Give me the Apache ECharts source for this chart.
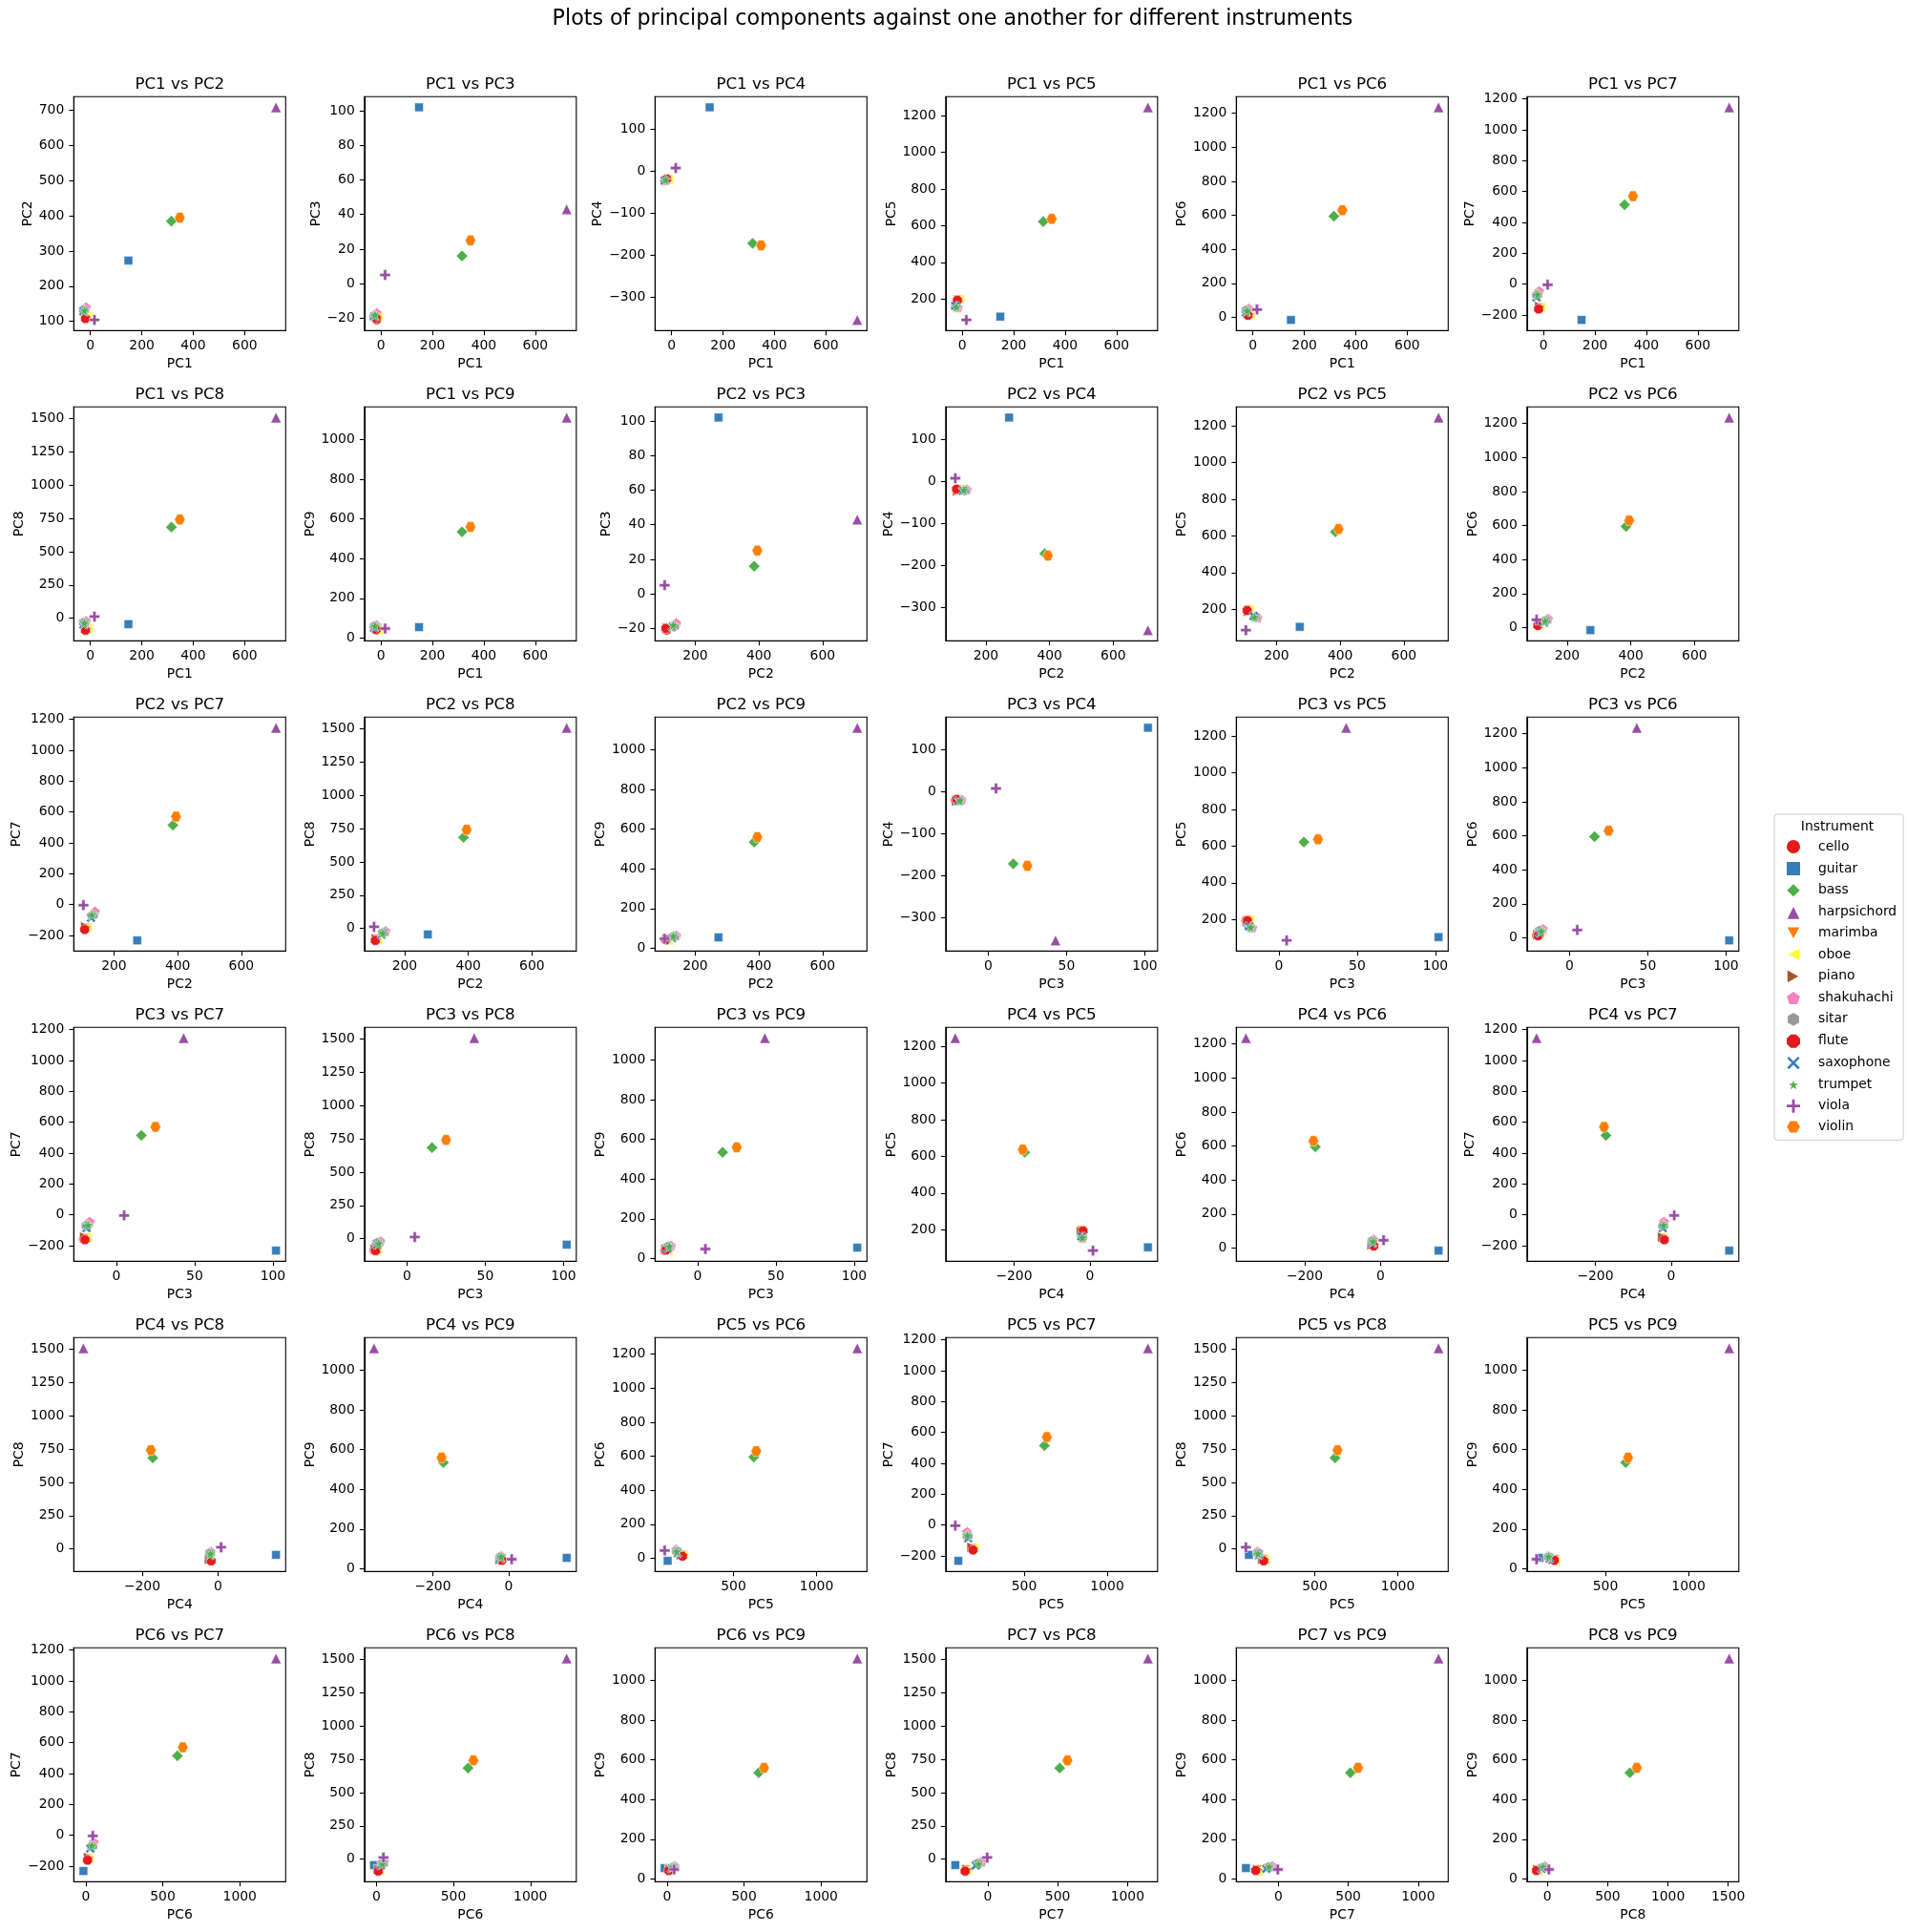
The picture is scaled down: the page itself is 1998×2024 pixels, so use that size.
<!DOCTYPE html>
<html><head><meta charset="utf-8">
<script src="https://cdn.jsdelivr.net/npm/echarts@6/dist/echarts.min.js"></script>
<style>html,body{margin:0;padding:0;background:#fff;} #chart{width:1998px;height:2024px;}</style>
</head><body><div id="chart"></div>
<script>
// ---------------- data ----------------
const instruments = ['cello','guitar','bass','harpsichord','marimba','oboe','piano','shakuhachi','sitar','flute','saxophone','trumpet','viola','violin'];
const PC1 = [-17, 148, 315, 722, -16, -12, -14, -17, -25, -19, -27, -23,  16, 348];
const PC2 = [110, 273, 385, 709, 112, 114, 112, 140, 133, 108, 128, 131, 104, 395];
const PC3 = [-21, 102,  16,  43, -20, -19, -20, -17, -19, -20, -19, -18,   5,  25];
const PC4 = [-20, 153, -172, -355, -21, -21, -22, -19, -21, -18, -22, -20,  8, -177];
const PC5 = [195, 104, 622, 1245, 192, 197, 188, 156, 160, 193, 163, 158,  86, 637];
const PC6 = [ 14, -15, 595, 1235,  16,  18,  20,  52,  42,  12,  30,  40,  46, 630];
const PC7 = [-158, -232, 515, 1146, -155, -150, -145, -45, -70, -162, -86, -66, -4, 570];
const PC8 = [-88, -45, 684, 1508, -84, -82, -78, -20, -32, -90, -48, -35,  12, 742];
const PC9 = [ 41,  55, 535, 1110,  44,  40,  47,  65,  60,  43,  52,  62,  48, 560];

// tick labels (x axes are narrower, so fewer ticks)
const xTicksPC1 = [0, 200, 400, 600];
const xTicksPC2 = [200, 400, 600];
const xTicksPC3 = [0, 50, 100];
const xTicksPC4 = [-200, 0];
const xTicksPC5 = [500, 1000];
const xTicksPC6 = [0, 500, 1000];
const xTicksPC7 = [0, 500, 1000];
const xTicksPC8 = [0, 500, 1000, 1500];
const yTicksPC2 = [100, 200, 300, 400, 500, 600, 700];
const yTicksPC3 = [-20, 0, 20, 40, 60, 80, 100];
const yTicksPC4 = [-300, -200, -100, 0, 100];
const yTicksPC5 = [200, 400, 600, 800, 1000, 1200];
const yTicksPC6 = [0, 200, 400, 600, 800, 1000, 1200];
const yTicksPC7 = [-200, 0, 200, 400, 600, 800, 1000, 1200];
const yTicksPC8 = [0, 250, 500, 750, 1000, 1250, 1500];
const yTicksPC9 = [0, 200, 400, 600, 800, 1000];

// ---------------- styling ----------------
const colors = ['#e41a1c','#377eb8','#4daf4a','#984ea3','#ff7f00','#ffff33','#a65628','#f781bf','#999999','#e41a1c','#377eb8','#4daf4a','#984ea3','#ff7f00'];
const symbols = [
  'circle',
  'rect',
  'diamond',
  'triangle',
  'path://M0,0L100,0L50,90Z',
  'path://M90,0L90,100L0,50Z',
  'path://M0,0L0,100L90,50Z',
  'path://M50,0L97.55,34.55L79.39,90.45L20.61,90.45L2.45,34.55Z',
  'path://M50,0L93.3,25L93.3,75L50,100L6.7,75L6.7,25Z',
  'path://M30,0L70,0L100,30L100,70L70,100L30,100L0,70L0,30Z',
  'path://M0,20L20,0L50,30L80,0L100,20L70,50L100,80L80,100L50,70L20,100L0,80L30,50Z',
  'path://M50,0L61.2,34.5L97.6,34.5L68.2,55.9L79.4,90.5L50,69.1L20.6,90.5L31.8,55.9L2.4,34.5L38.8,34.5Z',
  'path://M35,0L65,0L65,35L100,35L100,65L65,65L65,100L35,100L35,65L0,65L0,35L35,35Z',
  'path://M25,6.7L75,6.7L100,50L75,93.3L25,93.3L0,50Z'
];
const sizes = [10, 9, 12, 11, 11, 11, 11, 11, 11, 10, 10, 12, 11, 11];

const PCS = [PC1, PC2, PC3, PC4, PC5, PC6, PC7, PC8, PC9];
const XT = {1:xTicksPC1,2:xTicksPC2,3:xTicksPC3,4:xTicksPC4,5:xTicksPC5,6:xTicksPC6,7:xTicksPC7,8:xTicksPC8};
const YT = {2:yTicksPC2,3:yTicksPC3,4:yTicksPC4,5:yTicksPC5,6:yTicksPC6,7:yTicksPC7,8:yTicksPC8,9:yTicksPC9};

const FONT = 'DejaVu Sans';
const FS = 13.9;
const L0 = 77.3, CSTEP = 304.5, T0 = 101.3, RSTEP = 325, W = 222, H = 245;

const ctx = document.createElement('canvas').getContext('2d');
ctx.font = FS + 'px "' + FONT + '"';
const fmt = v => String(Math.round(v)).replace('-', '\u2212');

function range(arr) {
  const mn = Math.min(...arr), mx = Math.max(...arr);
  const d = mx - mn;
  return [mn - 0.05 * d, mx + 0.05 * d];
}

const grids = [], xAxes = [], yAxes = [], series = [], graphics = [];
graphics.push({type:'text', x: 998, y: 20, style:{text:'Plots of principal components against one another for different instruments', font: '22.2px "' + FONT + '"', fill:'#000', align:'center', verticalAlign:'middle'}});

let k = 0;
for (let a = 1; a <= 8; a++) {
  for (let b = a + 1; b <= 9; b++) {
    const row = Math.floor(k / 6), col = k % 6;
    const left = L0 + col * CSTEP, top = T0 + row * RSTEP;
    grids.push({left, top, width: W, height: H, show: true, borderColor:'#000', borderWidth: 1.1, backgroundColor:'transparent'});
    const xr = range(PCS[a-1]), yr = range(PCS[b-1]);
    const xt = XT[a].filter(v => v >= xr[0] && v <= xr[1]);
    const yt = YT[b].filter(v => v >= yr[0] && v <= yr[1]);
    const yw = Math.max(...yt.map(v => ctx.measureText(fmt(v)).width));
    xAxes.push({
      gridIndex: k, type:'value', min: xr[0], max: xr[1],
      name: 'PC' + a, nameLocation:'middle', nameGap: 28,
      nameTextStyle:{fontFamily: FONT, fontSize: FS, color:'#000'},
      axisLine:{show:true, onZero:false, lineStyle:{color:'#000', width:1.1}},
      axisTick:{show:true, length:4.9, lineStyle:{color:'#000', width:1.1}, customValues: xt},
      axisLabel:{show:true, margin: 9, fontFamily: FONT, fontSize: FS, color:'#000', customValues: xt, formatter: v => fmt(v)},
      splitLine:{show:false}
    });
    yAxes.push({
      gridIndex: k, type:'value', min: yr[0], max: yr[1],
      name: 'PC' + b, nameLocation:'middle', nameGap: yw + 14.5, nameRotate: 90,
      nameTextStyle:{fontFamily: FONT, fontSize: FS, color:'#000'},
      axisLine:{show:true, onZero:false, lineStyle:{color:'#000', width:1.1}},
      axisTick:{show:true, length:4.9, lineStyle:{color:'#000', width:1.1}, customValues: yt},
      axisLabel:{show:true, margin: 10, fontFamily: FONT, fontSize: FS, color:'#000', customValues: yt, formatter: v => fmt(v)},
      splitLine:{show:false}
    });
    graphics.push({type:'text', x: left + W / 2, y: top - 12.5, style:{text: 'PC' + a + ' vs PC' + b, font: '16.7px "' + FONT + '"', fill:'#000', align:'center', verticalAlign:'middle'}});
    for (let i = 0; i < instruments.length; i++) {
      series.push({
        type:'scatter', name: instruments[i], xAxisIndex: k, yAxisIndex: k,
        symbol: symbols[i], symbolSize: sizes[i],
        itemStyle:{color: colors[i], borderColor:'#ffffff', borderWidth: 0.5, opacity: 1},
        emphasis:{disabled:true},
        data: [[PCS[a-1][i], PCS[b-1][i]]]
      });
    }
    k++;
  }
}

graphics.push({type:'text', x: 1925, y: 866, style:{text:'Instrument', font: FS + 'px "' + FONT + '"', fill:'#000', align:'center', verticalAlign:'middle'}, z: 100});

const chart = echarts.init(document.getElementById('chart'), null, {renderer:'canvas'});
chart.setOption({
  animation: false,
  backgroundColor: '#ffffff',
  grid: grids,
  xAxis: xAxes,
  yAxis: yAxes,
  series: series,
  graphic: graphics,
  legend: {
    orient:'vertical', left: 1859, top: 853,
    padding: [25, 7, 6, 11],
    itemWidth: 16, itemHeight: 16, itemGap: 4.9,
    borderColor:'#cccccc', borderWidth: 1, borderRadius: 3,
    backgroundColor:'rgba(255,255,255,0.8)',
    textStyle:{fontFamily: FONT, fontSize: FS, color:'#000', padding:[0,0,0,13]},
    data: instruments
  }
});
</script></body></html>
